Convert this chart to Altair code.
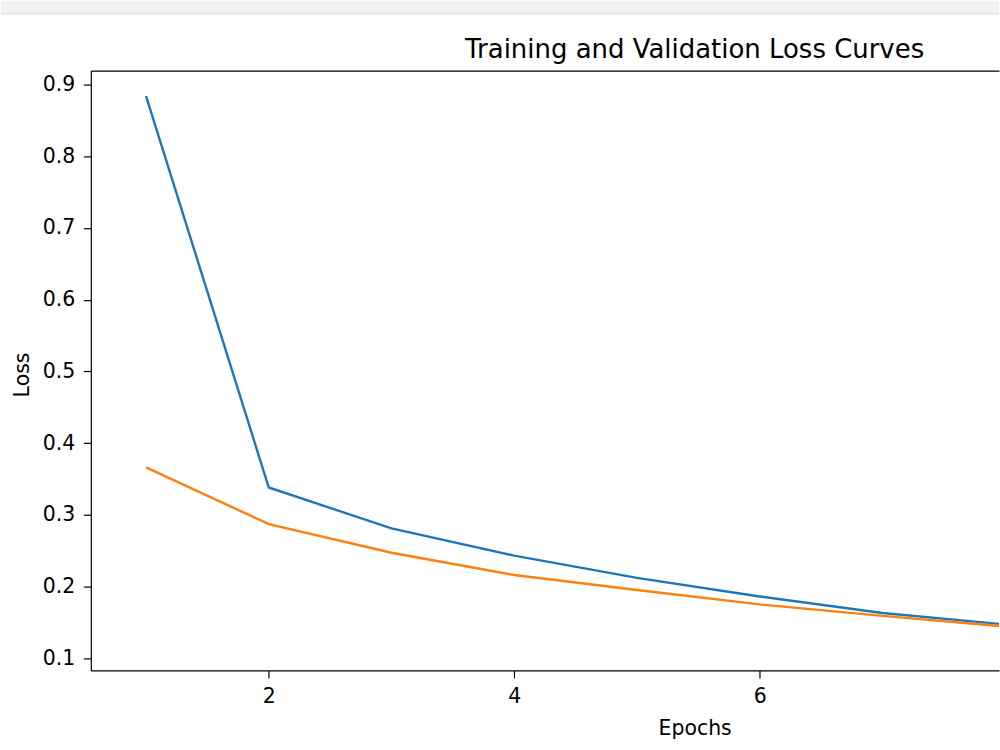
import altair as alt
import pandas as pd

# Loss per epoch for the two runs
epochs = [1, 2, 3, 4, 5, 6, 7, 8, 9, 10]
train_loss = [0.884, 0.338, 0.281, 0.243, 0.212, 0.186, 0.163, 0.147, 0.133, 0.121]
val_loss = [0.366, 0.287, 0.247, 0.216, 0.195, 0.175, 0.159, 0.144, 0.135, 0.128]

series_names = ["Training Loss", "Validation Loss"]
series_colors = ["#1f77b4", "#ff7f0e"]

x_ticks = [2, 4, 6, 8]
y_ticks = [0.1, 0.2, 0.3, 0.4, 0.5, 0.6, 0.7, 0.8, 0.9]

chart_title = "Training and Validation Loss Curves"

df = pd.DataFrame(
    {
        "epoch": epochs + epochs,
        "loss": train_loss + val_loss,
        "series": [series_names[0]] * len(epochs) + [series_names[1]] * len(epochs),
    }
)

W, H = 910, 601
FONT = "DejaVu Sans"

x_scale = alt.Scale(domain=[0.55, 7.95], nice=False, zero=False)
y_scale = alt.Scale(domain=[0.0829, 0.9195], nice=False, zero=False)

lines = (
    alt.Chart(df)
    .mark_line(strokeWidth=2.4, clip=True)
    .encode(
        x=alt.X(
            "epoch:Q",
            scale=x_scale,
            axis=alt.Axis(
                values=x_ticks,
                format="d",
                title="Epochs",
                labelPadding=9,
                titleX=605,
                titleY=64.3,
                titleBaseline="alphabetic",
                titleAlign="center",
            ),
        ),
        y=alt.Y(
            "loss:Q",
            scale=y_scale,
            axis=alt.Axis(
                values=y_ticks,
                format=".1f",
                title="Loss",
                labelPadding=8.5,
                titleX=-62,
                titleY=304.5,
                titleAngle=270,
                titleBaseline="alphabetic",
                titleAlign="center",
            ),
        ),
        color=alt.Color(
            "series:N",
            scale=alt.Scale(domain=series_names, range=series_colors),
            legend=None,
        ),
    )
)

# top spine (invisible points, only the axis domain line is drawn)
top_spine = (
    alt.Chart(df)
    .mark_point(opacity=0, clip=True)
    .encode(
        x=alt.X(
            "epoch:Q",
            scale=x_scale,
            axis=alt.Axis(orient="top", labels=False, ticks=False, title=None),
        ),
        y=alt.Y("loss:Q", scale=y_scale),
    )
)

one_row = pd.DataFrame({"label": [chart_title]})

# notebook toolbar strip above the figure
strip = alt.Chart(one_row).mark_rect(color="#f2f2f2").encode(
    x=alt.value(-90), x2=alt.value(910), y=alt.value(-69.5), y2=alt.value(-57.5)
)
strip_edge = alt.Chart(one_row).mark_rule(color="#dcdcdc", strokeWidth=1.2).encode(
    x=alt.value(-90), x2=alt.value(910), y=alt.value(-57)
)

# figure title, centred over the full axes width
title_text = (
    alt.Chart(one_row)
    .mark_text(
        align="center",
        baseline="alphabetic",
        font=FONT,
        fontSize=26,
        color="black",
    )
    .encode(x=alt.value(605), y=alt.value(-13), text="label:N")
)

chart = (
    alt.layer(strip, strip_edge, title_text, lines, top_spine)
    .resolve_axis(x="independent")
    .properties(width=W, height=H, padding=0)
    .configure(font=FONT)
    .configure_view(stroke=None)
    .configure_axis(
        grid=False,
        labelFont=FONT,
        labelFontSize=20.5,
        labelColor="black",
        titleFont=FONT,
        titleFontSize=20.5,
        titleFontWeight="normal",
        titleColor="black",
        tickColor="black",
        tickWidth=1.2,
        tickSize=7.5,
        domainColor="black",
        domainWidth=1.2,
    )
)

chart.save("out.html", embed_options={"renderer": "svg", "actions": False})
